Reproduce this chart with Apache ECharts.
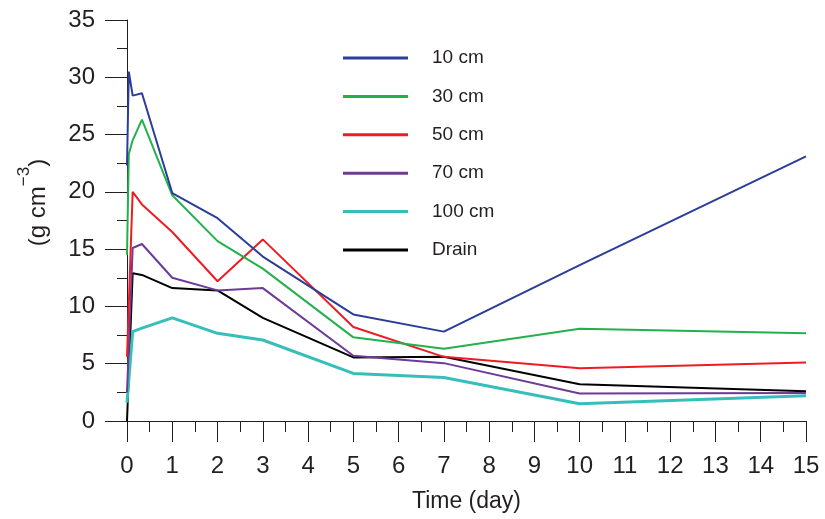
<!DOCTYPE html>
<html>
<head>
<meta charset="utf-8">
<script src="https://cdn.jsdelivr.net/npm/echarts@6/dist/echarts.min.js"></script>
<style>
html,body{margin:0;padding:0;background:#fff;}
#chart{width:825px;height:519px;}
</style>
</head>
<body>
<div id="chart"></div>
<script>
// Time points (day)
var times = [0, 0.04, 0.125, 0.33, 1, 2, 3, 5, 7, 10, 15];
// Series values (null = no measurement at that time)
var cm10  = [22.3, 30.5, 28.4, 28.6, 19.9, 17.7, 14.35, 9.3, 7.8, 13.6, 23.1];
var cm30  = [14.5, 23.3, 24.5, 26.3, 19.7, 15.7, 13.3, 7.3, 6.3, 8.05, 7.65];
var cm50  = [5.6, null, 20.0, 18.9, 16.5, 12.2, 15.85, 8.2, 5.6, 4.6, 5.1];
var cm70  = [2.5, null, 15.1, 15.45, 12.5, 11.4, 11.6, 5.7, 5.05, 2.4, 2.45];
var cm100 = [1.6, null, 7.8, 8.1, 9.0, 7.65, 7.07, 4.15, 3.8, 1.5, 2.2];
var drain = [0, null, 12.9, 12.75, 11.6, 11.4, 9.0, 5.55, 5.6, 3.2, 2.6];

var seriesNames = ['10 cm', '30 cm', '50 cm', '70 cm', '100 cm', 'Drain'];
var xTicks = [0,1,2,3,4,5,6,7,8,9,10,11,12,13,14,15];
var yTicks = [0,5,10,15,20,25,30,35];

var colors = ['#2b3d97', '#22b14c', '#ed1c24', '#6d3a96', '#36bfba', '#000000'];
var widths = [2, 2, 2, 2, 3, 2];
var allValues = [cm10, cm30, cm50, cm70, cm100, drain];

function pairs(vals) {
  var out = [];
  for (var i = 0; i < times.length; i++) {
    if (vals[i] !== null) out.push([times[i], vals[i]]);
  }
  return out;
}

var textColor = '#231f20';
var font = "'Liberation Sans', Arial, sans-serif";

var series = seriesNames.map(function (n, i) {
  return {
    name: n,
    type: 'line',
    data: pairs(allValues[i]),
    symbol: 'none',
    lineStyle: { color: colors[i], width: widths[i] },
    itemStyle: { color: colors[i] },
    z: 10 - i
  };
});

var chart = echarts.init(document.getElementById('chart'), null, { renderer: 'canvas' });
chart.setOption({
  animation: false,
  backgroundColor: '#ffffff',
  grid: { left: 127, right: 19, top: 20, bottom: 98, containLabel: false },
  legend: {
    orient: 'vertical',
    left: 343,
    top: 48,
    padding: 0,
    itemWidth: 65,
    itemHeight: 3,
    itemGap: 18.4,
    icon: 'rect',
    data: seriesNames,
    textStyle: {
      fontFamily: font,
      fontSize: 19,
      color: textColor,
      lineHeight: 20,
      padding: [0, 0, 0, 19]
    }
  },
  xAxis: {
    type: 'value',
    min: 0,
    max: 15,
    interval: 1,
    name: 'Time (day)',
    nameLocation: 'middle',
    nameGap: 69,
    nameTextStyle: { fontFamily: font, fontSize: 23, color: textColor },
    axisLine: { show: true, onZero: false, lineStyle: { color: textColor, width: 1 } },
    axisTick: { show: true, length: 21, lineStyle: { color: textColor, width: 1 } },
    minorTick: { show: true, splitNumber: 2, length: 11, lineStyle: { color: textColor, width: 1 } },
    splitLine: { show: false },
    axisLabel: {
      margin: 33,
      fontFamily: font,
      fontSize: 24,
      color: textColor,
      formatter: function (v) { return xTicks.indexOf(v) >= 0 ? String(v) : ''; }
    }
  },
  yAxis: {
    type: 'value',
    min: 0,
    max: 35,
    interval: 5,
    name: '{a|(g cm}{s|−3}{a|)}',
    nameLocation: 'middle',
    nameGap: 77,
    nameTextStyle: {
      padding: [0, 0, 0, 36],
      rich: {
        a: { fontFamily: font, fontSize: 24, color: textColor, lineHeight: 34, verticalAlign: 'bottom' },
        s: { fontFamily: font, fontSize: 17, color: textColor, lineHeight: 34, verticalAlign: 'top', padding: [0, 0, 12, 0] }
      }
    },
    axisLine: { show: true, onZero: false, lineStyle: { color: textColor, width: 1 } },
    axisTick: { show: true, length: 22, lineStyle: { color: textColor, width: 1 } },
    minorTick: { show: true, splitNumber: 2, length: 10, lineStyle: { color: textColor, width: 1 } },
    splitLine: { show: false },
    axisLabel: {
      margin: 32,
      fontFamily: font,
      fontSize: 24,
      color: textColor,
      formatter: function (v) { return yTicks.indexOf(v) >= 0 ? String(v) : ''; }
    }
  },
  series: series
});
</script>
</body>
</html>
